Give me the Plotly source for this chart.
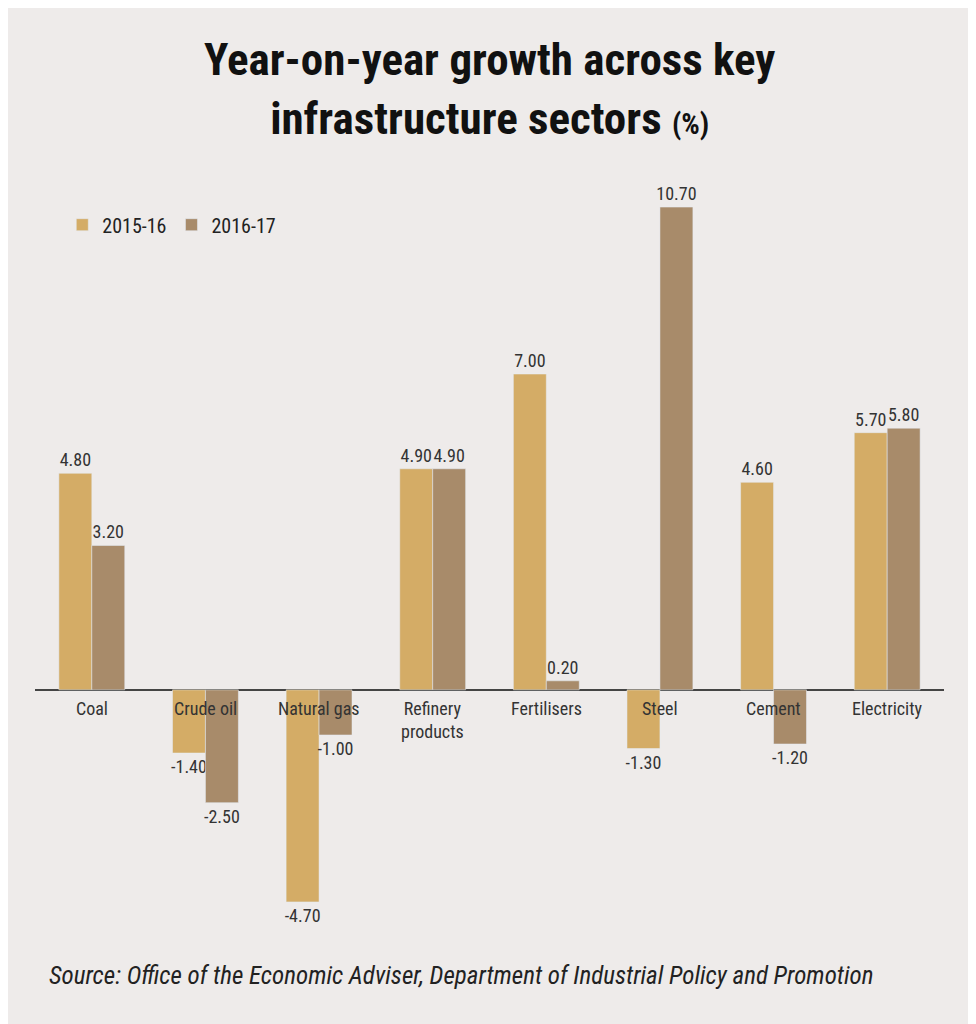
import plotly.graph_objects as go

categories = ["Coal", "Crude oil", "Natural gas", "Refinery<br>products", "Fertilisers", "Steel", "Cement", "Electricity"]
s1516 = [4.8, -1.4, -4.7, 4.9, 7.0, -1.3, 4.6, 5.7]
s1617 = [3.2, -2.5, -1.0, 4.9, 0.2, 10.7, -1.2, 5.8]

fnt = "Liberation Sans Narrow, Roboto Condensed, Arial Narrow, sans-serif"
fig = go.Figure()
for name, vals, col in [("2015-16", s1516, "#D4AC66"), ("2016-17", s1617, "#A88B6A")]:
    fig.add_bar(x=categories, y=vals, name=name, marker_color=col,
                text=[f"{v:.2f}" for v in vals], textposition="outside",
                textfont=dict(size=18, color="#333"), cliponaxis=False)

for c in categories:
    fig.add_annotation(x=c, y=0, yref="y", text=c, showarrow=False, yanchor="top", yshift=-6,
                       font=dict(size=18, color="#333", family=fnt))

fig.add_annotation(xref="paper", yref="paper", x=0.5, y=1.0, yshift=140, showarrow=False,
                   text="<b>Year-on-year growth across key<br>infrastructure sectors <span style='font-size:29px'>(%)</span></b>",
                   font=dict(size=45, color="#111", family="Impact, Roboto Condensed, Liberation Sans Narrow, sans-serif"))
fig.add_annotation(xref="paper", yref="paper", x=0.0, y=0, xshift=12, yshift=-54, xanchor="left", showarrow=False,
                   text="<i>Source: Office of the Economic Adviser, Department of Industrial Policy and Promotion</i>",
                   font=dict(size=25, color="#222", family=fnt))

fig.update_layout(
    width=976, height=1024, paper_bgcolor="#EEEBEA", plot_bgcolor="#EEEBEA",
    margin=dict(l=27, r=40, t=163, b=94),
    barmode="group", bargap=0.42, bargroupgap=0,
    font=dict(family=fnt),
    uniformtext=dict(minsize=18, mode="show"),
    xaxis=dict(showticklabels=False, showgrid=False, zeroline=False),
    yaxis=dict(range=[-5.5, 11.5], visible=True, showticklabels=False, showgrid=False,
               zeroline=True, zerolinecolor="#444", zerolinewidth=1.5),
    legend=dict(orientation="h", x=0.03, y=0.93, xanchor="left", yanchor="middle",
                font=dict(size=20, color="#222"), bgcolor="rgba(0,0,0,0)"),
)
fig.write_html("out.html")
